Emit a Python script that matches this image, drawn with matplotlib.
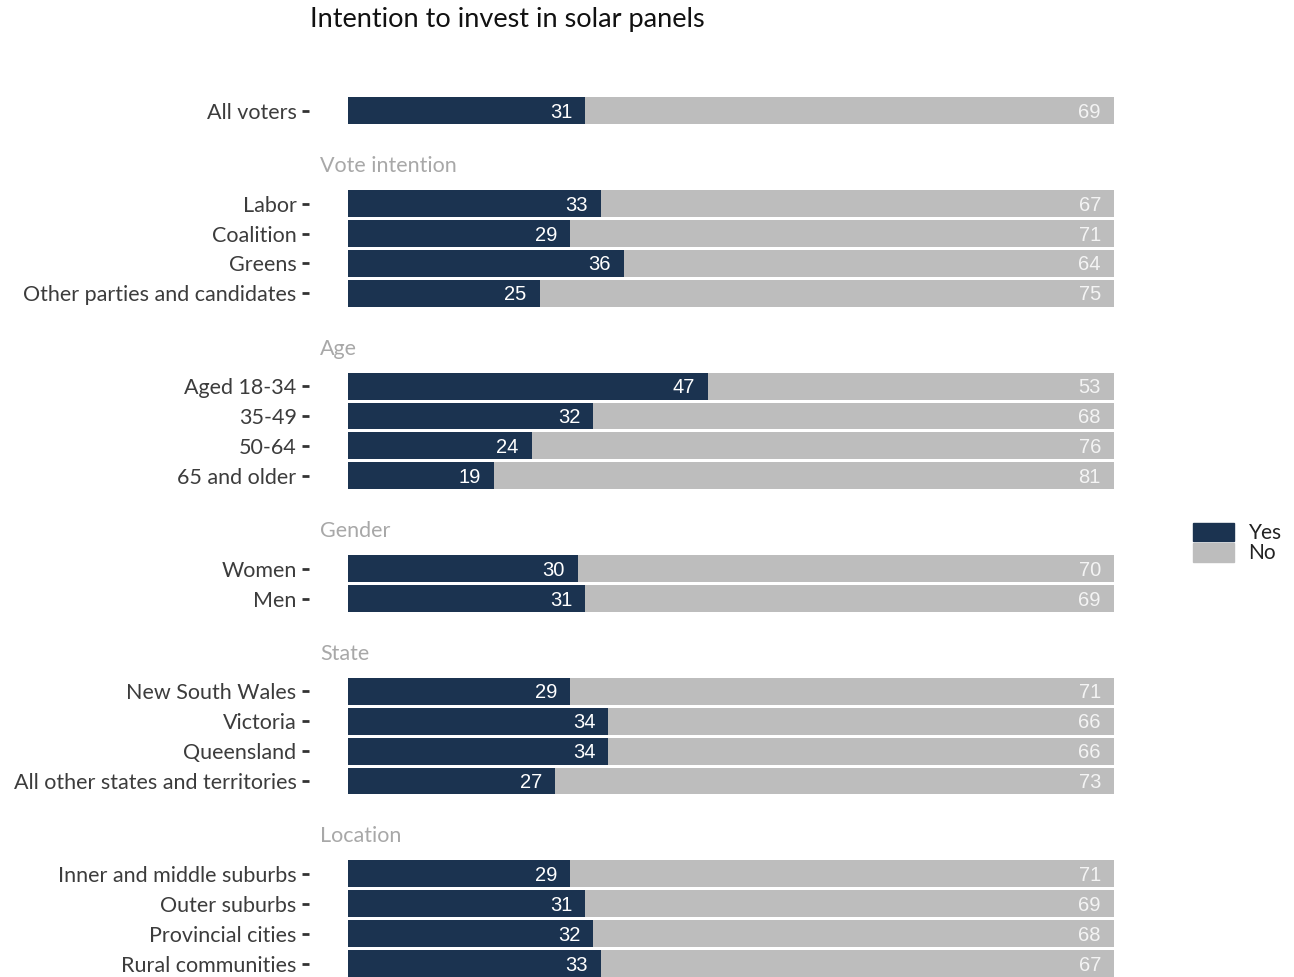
import matplotlib.pyplot as plt
from matplotlib.patches import Patch
from matplotlib.transforms import blended_transform_factory

# groups of rows (header, labels, yes %, no %)
groups = ['', 'Vote intention', 'Age', 'Gender', 'State', 'Location']
labels = [
    ['All voters'],
    ['Labor', 'Coalition', 'Greens', 'Other parties and candidates'],
    ['Aged 18-34', '35-49', '50-64', '65 and older'],
    ['Women', 'Men'],
    ['New South Wales', 'Victoria', 'Queensland', 'All other states and territories'],
    ['Inner and middle suburbs', 'Outer suburbs', 'Provincial cities', 'Rural communities'],
]
yes = [
    [31],
    [33, 29, 36, 25],
    [47, 32, 24, 19],
    [30, 31],
    [29, 34, 34, 27],
    [29, 31, 32, 33],
]
no = [
    [69],
    [67, 71, 64, 75],
    [53, 68, 76, 81],
    [70, 69],
    [71, 66, 66, 73],
    [71, 69, 68, 67],
]

navy = '#1b3350'
grey = '#bdbdbd'
plt.rcParams['font.family'] = ['Lato', 'DejaVu Sans']

fig = plt.figure(figsize=(12.94, 9.77), dpi=100)
ax = fig.add_axes([348 / 1294, 0, 766 / 1294, (977 - 95) / 977])
for s in ax.spines.values():
    s.set_visible(False)
ax.spines['left'].set_position(('outward', 28))

gap = 3.1
ypos, ylabels, yv, nv, heads = [], [], [], [], []
y = 0
for gi, (g, lab, ys, ns) in enumerate(zip(groups, labels, yes, no)):
    if gi > 0:
        y += gap
        heads.append((g, y - 1.3))
    for i, (l, a, b) in enumerate(zip(lab, ys, ns)):
        if i > 0:
            y += 1
        ypos.append(y)
        ylabels.append(l)
        yv.append(a)
        nv.append(b)

ax.barh(ypos, yv, height=0.9, color=navy)
ax.barh(ypos, nv, left=yv, height=0.9, color=grey)

for p, a, b in zip(ypos, yv, nv):
    ax.text(a - 1.7, p + 0.05, str(a), ha='right', va='center', color='white',
            fontsize=14.5, family='Liberation Sans')
    ax.text(a + b - 1.7, p + 0.05, str(b), ha='right', va='center', color='#f4f4f4',
            fontsize=14.5, family='Liberation Sans')

tr = blended_transform_factory(ax.transAxes, ax.transData)
for h, p in heads:
    ax.text(-28 / 766, p + 0.05, h, ha='left', va='center', color='#a8a8a8',
            fontsize=15.5, transform=tr)

ax.set_xlim(0, 100)
ax.set_ylim(28.95, -0.53)
ax.set_yticks(ypos)
ax.set_yticklabels(ylabels, fontsize=15.5, color='#3c3c3c')
ax.set_xticks([])
ax.tick_params(axis='y', length=5, width=2, color='#333333', pad=4)

fig.text(310 / 1294, 1 - 20 / 977, 'Intention to invest in solar panels',
         fontsize=19.5, ha='left', va='center', color='#111111')

handles = [Patch(color=navy, label='Yes'), Patch(color=grey, label='No')]
leg = fig.legend(handles=handles, loc='center left', bbox_to_anchor=(1193 / 1294, 1 - 543 / 977),
                 frameon=False, fontsize=15, handlelength=1.97, handleheight=1.0,
                 labelspacing=0, borderpad=0, handletextpad=0.7, borderaxespad=0)
for t in leg.get_texts():
    t.set_color('#222222')

fig.savefig('out.png', dpi=100)
